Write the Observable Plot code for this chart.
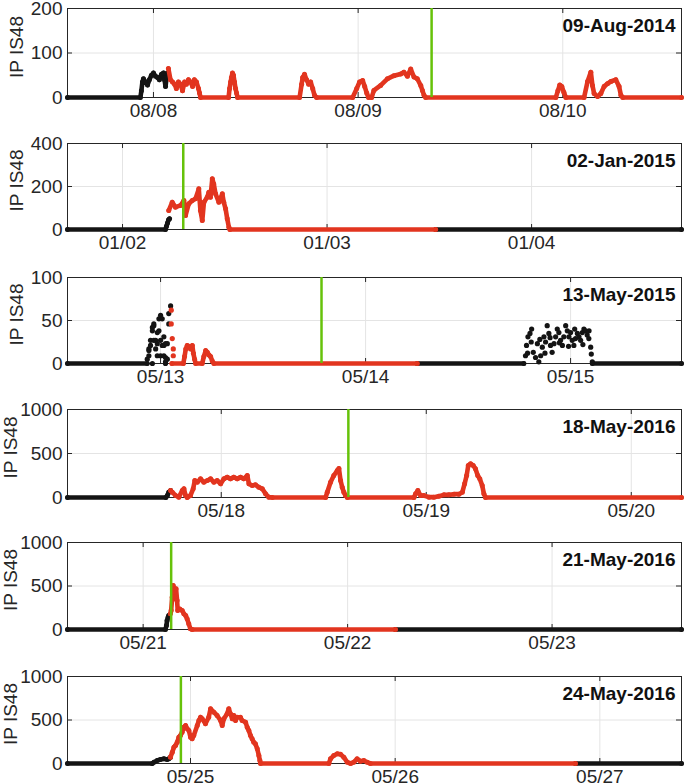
<!DOCTYPE html>
<html><head><meta charset="utf-8">
<script src="https://cdn.jsdelivr.net/npm/d3@7"></script>
<script src="https://cdn.jsdelivr.net/npm/@observablehq/plot@0.6"></script>
<style>
html,body{margin:0;padding:0;background:#fff;overflow:hidden}
#chart{position:relative;width:685px;height:784px;overflow:hidden}
#chart svg{position:absolute;left:0}
</style></head><body><div id="chart"></div>
<script>
// ---- time unit: days since midnight of the first labelled day of each panel ----

// Panel 1: 09-Aug-2014
const aug14Label = "09-Aug-2014";
const aug14Domain = [-0.42, 2.58];
const aug14XTicks = ["08/08", "08/09", "08/10"];
const aug14YTicks = [0, 100, 200];
const aug14Event = 1.359;
const aug14Black = [
  [[-0.42,0],[-0.064,0],[-0.059,15],[-0.054,35],[-0.049,42],[-0.039,35],[-0.029,28],[-0.020,40],[-0.010,50],[0,55],[0.010,48],[0.020,45],[0.029,40],[0.039,52],[0.049,55],[0.054,40],[0.059,25],[0.064,45],[0.068,55]]
];
const aug14Red = [
  [[0.073,65],[0.083,40],[0.093,35],[0.103,30],[0.112,20],[0.122,35],[0.132,30],[0.142,15],[0.152,35],[0.161,30],[0.171,40],[0.181,35],[0.191,25],[0.200,40],[0.210,35],[0.220,20],[0.225,10],[0.230,0],
   [0.367,0],[0.372,20],[0.377,35],[0.381,45],[0.386,55],[0.391,50],[0.396,35],[0.401,20],[0.406,10],[0.411,0],
   [0.714,0],[0.724,30],[0.729,45],[0.738,52],[0.748,40],[0.758,30],[0.768,35],[0.778,20],[0.787,5],[0.797,0],
   [0.973,0],[0.993,20],[1.007,35],[1.022,38],[1.032,25],[1.042,10],[1.051,0],[1.066,0],[1.077,16],[1.110,27],[1.143,42],[1.175,49],[1.208,53],[1.224,57],[1.241,48],[1.257,64],[1.273,46],[1.289,42],[1.306,27],[1.314,16],[1.322,5],[1.330,0],
   [1.966,0],[1.976,15],[1.985,28],[1.995,25],[2.005,12],[2.015,0],
   [2.104,0],[2.121,36],[2.137,57],[2.145,27],[2.153,9],[2.170,2],[2.186,9],[2.202,25],[2.218,31],[2.235,36],[2.259,40],[2.275,25],[2.284,5],[2.293,0],[2.58,0]]
];

// Panel 2: 02-Jan-2015
const jan15Label = "02-Jan-2015";
const jan15Domain = [-0.269, 2.733];
const jan15XTicks = ["01/02", "01/03", "01/04"];
const jan15YTicks = [0, 200, 400];
const jan15Event = 0.297;
const jan15Black = [
  [[-0.269,0],[0.210,0],[0.215,15],[0.220,30],[0.225,45],[0.230,50]],
  [[1.531,0],[2.733,0]]
];
const jan15Red = [
  [[0.226,88],[0.243,127],[0.259,104],[0.284,112],[0.300,135],[0.308,65],[0.324,120],[0.341,135],[0.357,143],[0.373,189],[0.381,88],[0.390,42],[0.398,127],[0.414,150],[0.422,173],[0.430,150],[0.439,236],[0.446,212],[0.455,166],[0.471,127],[0.488,166],[0.495,127],[0.504,96],[0.512,50],[0.520,11],[0.525,0],[1.531,0]]
];

// Panel 3: 13-May-2015
const may15Label = "13-May-2015";
const may15Domain = [-0.454, 2.541];
const may15XTicks = ["05/13", "05/14", "05/15"];
const may15YTicks = [0, 50, 100];
const may15Event = 0.785;
const may15Black = [
  [[-0.454,0],[-0.065,0]],
  [[1.252,0],[1.772,0]],
  [[2.106,0],[2.541,0]]
];
const may15BlackScatter = [
  [-0.065,5],[-0.057,9],[-0.057,15],[-0.057,17],[-0.049,21],[-0.049,27],[-0.040,38],[-0.040,42],[-0.040,0],[-0.033,44],[-0.033,46],[-0.033,27],[-0.024,17],[-0.024,27],[-0.016,9],[-0.016,36],[-0.016,23],[-0.008,38],[-0.008,52],[0,56],[0,27],[0,9],[0.008,21],[0.008,52],[0.016,9],[0.016,31],[0.016,21],[0.024,2],[0.024,23],[0.024,7],[0.024,0],[0.033,5],[0.033,23],[0.040,46],[0.040,58],[0.049,67],
  [1.780,9],[1.785,21],[1.790,12],[1.792,31],[1.802,35],[1.808,25],[1.810,40],[1.818,13],[1.829,7],[1.838,23],[1.845,2],[1.850,28],[1.854,9],[1.862,19],[1.870,31],[1.875,12],[1.878,25],[1.886,44],[1.894,35],[1.900,30],[1.902,21],[1.910,13],[1.919,23],[1.927,31],[1.935,40],[1.943,36],[1.945,24],[1.951,27],[1.960,21],[1.967,31],[1.976,44],[1.984,38],[1.990,20],[1.992,31],[2.0,36],[2.008,27],[2.016,21],[2.02,40],[2.024,29],[2.033,35],[2.041,31],[2.049,27],[2.057,36],[2.06,22],[2.065,40],[2.073,38],[2.081,33],[2.089,29],[2.09,38],[2.098,19],[2.101,11],[2.106,2]
];
const may15Red = [
  [[0.055,0],[0.111,0],[0.117,8],[0.123,17],[0.130,21],[0.138,20],[0.146,17],[0.155,21],[0.160,12],[0.166,5],[0.171,0],[0.203,0],[0.211,8],[0.220,15],[0.228,13],[0.236,10],[0.244,8],[0.252,3],[0.260,0],[1.252,0]]
];
const may15RedScatter = [[0.052,62],[0.052,46],[0.057,29],[0.062,17],[0.062,9]];

// Panel 4: 18-May-2016
const may16aLabel = "18-May-2016";
const may16aDomain = [-0.750, 2.245];
const may16aXTicks = ["05/18", "05/19", "05/20"];
const may16aYTicks = [0, 500, 1000];
const may16aEvent = 0.620;
const may16aBlack = [
  [[-0.750,0],[-0.270,0],[-0.263,23],[-0.256,60],[-0.247,80]]
];
const may16aRed = [
  [[-0.247,80],[-0.239,60],[-0.223,23],[-0.207,4],[-0.190,80],[-0.182,99],[-0.174,23],[-0.166,0],[-0.150,23],[-0.137,99],[-0.129,193],[-0.117,174],[-0.101,212],[-0.085,174],[-0.068,193],[-0.052,212],[-0.036,174],[-0.020,193],[-0.003,155],[0.013,212],[0.029,231],[0.045,212],[0.061,231],[0.078,212],[0.094,231],[0.110,212],[0.127,250],[0.135,155],[0.151,136],[0.167,144],[0.183,117],[0.200,99],[0.216,42],[0.232,4],[0.249,0],
   [0.509,0],[0.517,60],[0.533,174],[0.549,250],[0.566,307],[0.574,330],[0.582,193],[0.590,117],[0.598,60],[0.606,23],[0.615,0],
   [0.940,0],[0.948,42],[0.959,80],[0.972,23],[0.988,23],[1.013,4],[1.037,4],[1.061,15],[1.086,30],[1.110,30],[1.135,38],[1.159,38],[1.176,60],[1.187,155],[1.197,250],[1.205,364],[1.216,383],[1.229,364],[1.240,326],[1.251,250],[1.261,212],[1.273,136],[1.281,42],[1.289,0],[2.245,0]]
];

// Panel 5: 21-May-2016
const may16bLabel = "21-May-2016";
const may16bDomain = [-0.370, 2.633];
const may16bXTicks = ["05/21", "05/22", "05/23"];
const may16bYTicks = [0, 500, 1000];
const may16bEvent = 0.137;
const may16bBlack = [
  [[-0.370,0],[0.109,0],[0.114,46],[0.117,103],[0.122,141],[0.125,161]],
  [[1.234,0],[2.633,0]]
];
const may16bRed = [
  [[0.133,180],[0.137,218],[0.142,371],[0.147,506],[0.150,467],[0.153,429],[0.158,352],[0.161,467],[0.166,333],[0.169,218],[0.179,237],[0.191,218],[0.199,180],[0.208,161],[0.215,123],[0.223,65],[0.231,8],[0.240,0],[1.234,0]]
];

// Panel 6: 24-May-2016
const may16cLabel = "24-May-2016";
const may16cDomain = [-0.601, 2.399];
const may16cXTicks = ["05/25", "05/26", "05/27"];
const may16cYTicks = [0, 500, 1000];
const may16cEvent = -0.047;
const may16cBlack = [
  [[-0.601,0],[-0.187,0],[-0.179,15],[-0.163,34],[-0.147,46],[-0.130,54],[-0.114,46],[-0.106,54],[-0.098,73]],
  [[1.881,0],[2.399,0]]
];
const may16cRed = [
  [[-0.098,73],[-0.089,130],[-0.081,188],[-0.073,207],[-0.065,245],[-0.057,303],[-0.049,322],[-0.041,360],[-0.033,418],[-0.024,437],[-0.016,399],[-0.008,379],[0,303],[0.008,284],[0.016,322],[0.033,437],[0.041,494],[0.049,532],[0.057,514],[0.073,456],[0.089,532],[0.098,629],[0.114,590],[0.130,552],[0.147,494],[0.155,437],[0.163,514],[0.179,571],[0.187,629],[0.195,571],[0.204,514],[0.212,552],[0.220,494],[0.228,532],[0.244,532],[0.252,494],[0.269,475],[0.277,418],[0.285,379],[0.293,322],[0.301,284],[0.309,245],[0.317,226],[0.326,169],[0.334,92],[0.339,34],[0.342,0],
   [0.676,0],[0.684,54],[0.700,92],[0.717,111],[0.733,105],[0.749,73],[0.766,15],[0.782,0],[0.798,15],[0.814,54],[0.830,27],[0.847,34],[0.863,15],[0.879,0],[1.881,0]]
];

const yLabel = "IP IS48";

// ---- layout ----
const panels = [
  {label: aug14Label, domain: aug14Domain, xt: aug14XTicks, yt: aug14YTicks, ev: aug14Event, black: aug14Black, red: aug14Red, bs: [], rs: [], top: 8, h: 89},
  {label: jan15Label, domain: jan15Domain, xt: jan15XTicks, yt: jan15YTicks, ev: jan15Event, black: jan15Black, red: jan15Red, bs: [], rs: [], top: 143, h: 86},
  {label: may15Label, domain: may15Domain, xt: may15XTicks, yt: may15YTicks, ev: may15Event, black: may15Black, red: may15Red, bs: may15BlackScatter, rs: may15RedScatter, top: 277, h: 86},
  {label: may16aLabel, domain: may16aDomain, xt: may16aXTicks, yt: may16aYTicks, ev: may16aEvent, black: may16aBlack, red: may16aRed, bs: [], rs: [], top: 409, h: 88},
  {label: may16bLabel, domain: may16bDomain, xt: may16bXTicks, yt: may16bYTicks, ev: may16bEvent, black: may16bBlack, red: may16bRed, bs: [], rs: [], top: 542, h: 87},
  {label: may16cLabel, domain: may16cDomain, xt: may16cXTicks, yt: may16cYTicks, ev: may16cEvent, black: may16cBlack, red: may16cRed, bs: [], rs: [], top: 676, h: 87}
];

const W = 685, ML = 67, MR = 4, MT = 8, MB = 30;
const PW = W - ML - MR;
const RED = "#e2351f", BLACK = "#141414", GREEN = "#66c20a", AX = "#262626", GRID = "#e4e4e4";
const FONT = "'Liberation Sans', Arial, Helvetica, sans-serif";
const chart = document.getElementById("chart");

panels.forEach(p => {
  const xTickVals = p.xt.map((_, i) => i);
  const wide = p.yt[p.yt.length - 1] >= 1000;
  const seriesMarks = (segs, color) => segs.flatMap(seg => [
    Plot.line(seg, {x: d => d[0], y: d => d[1], stroke: color, strokeWidth: 4.6, strokeLinecap: "round", strokeLinejoin: "round"}),
    Plot.dot(seg, {x: d => d[0], y: d => d[1], r: 2.5, fill: color, stroke: "none"})
  ]);
  const svg = Plot.plot({
    width: W,
    height: MT + p.h + MB,
    marginLeft: ML, marginRight: MR, marginTop: MT, marginBottom: MB,
    style: {fontFamily: FONT, fontSize: "19px", color: AX, background: "transparent", overflow: "visible"},
    x: {domain: p.domain},
    y: {domain: [p.yt[0], p.yt[p.yt.length - 1]]},
    marks: [
      Plot.ruleX(xTickVals, {stroke: GRID, strokeWidth: 1}),
      Plot.ruleY(p.yt, {stroke: GRID, strokeWidth: 1}),
      Plot.frame({stroke: AX, strokeWidth: 1}),
      Plot.tickX(xTickVals, {insetBottom: p.h - 5, stroke: AX}),
      Plot.tickX(xTickVals, {insetTop: p.h - 5, stroke: AX}),
      Plot.tickY(p.yt, {insetRight: PW - 5, stroke: AX}),
      Plot.tickY(p.yt, {insetLeft: PW - 5, stroke: AX}),
      ...seriesMarks(p.black, BLACK),
      Plot.dot(p.bs, {x: d => d[0], y: d => d[1], r: 2.6, fill: BLACK, stroke: "none"}),
      ...seriesMarks(p.red, RED),
      Plot.dot(p.rs, {x: d => d[0], y: d => d[1], r: 2.6, fill: RED, stroke: "none"}),
      Plot.ruleX([p.ev], {stroke: GREEN, strokeWidth: 2.5}),
      Plot.text([p.label], {text: d => d, frameAnchor: "top-right", lineAnchor: "top", textAnchor: "end", dx: -6, dy: 10, fontWeight: "bold", fontSize: 19, fill: "#111"}),
      Plot.text([yLabel], {text: d => d, frameAnchor: "left", textAnchor: "middle", lineAnchor: "middle", rotate: -90, dx: wide ? -57 : -51, dy: -6, fontSize: 19, fill: AX}),
      Plot.axisX(xTickVals, {tickSize: 0, tickPadding: 6, tickFormat: d => p.xt[d], fill: AX, label: null}),
      Plot.axisY(p.yt, {tickSize: 0, tickPadding: 5, tickFormat: d => String(d), fill: AX, label: null})
    ]
  });
  svg.style.top = (p.top - MT) + "px";
  chart.appendChild(svg);
});
</script>
</body></html>
